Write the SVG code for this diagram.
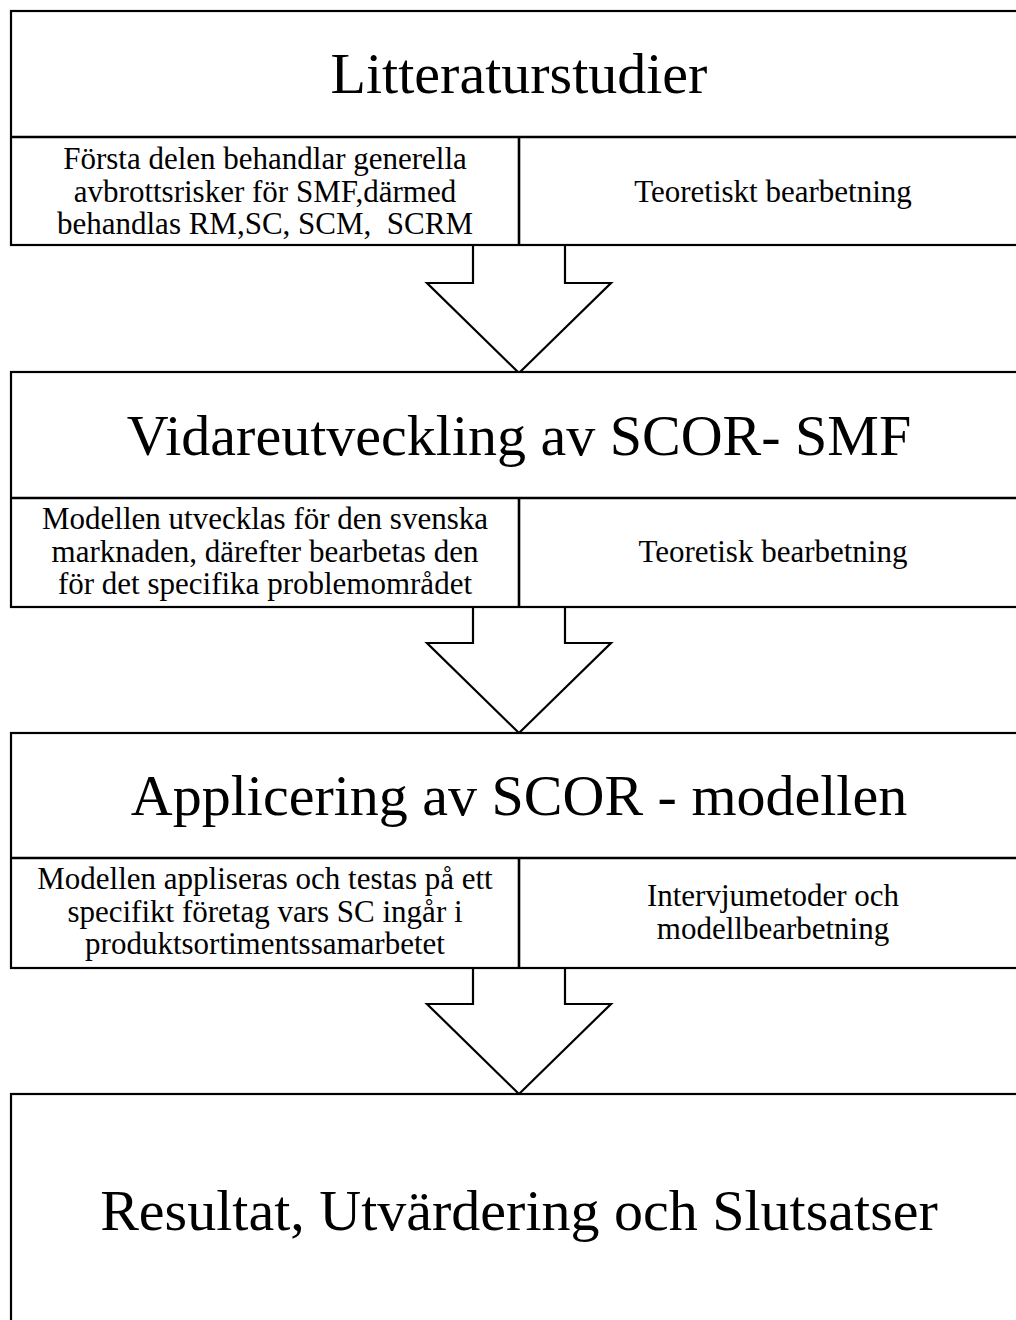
<svg xmlns="http://www.w3.org/2000/svg" width="1016" height="1320" viewBox="0 0 1016 1320">
  <style>
    .frame { fill: #ffffff; stroke: #000000; stroke-width: 2.2; }
    .rule { stroke: #000000; stroke-width: 2.6; fill: none; }
    .arrow { fill: #ffffff; stroke: #000000; stroke-width: 2.2; stroke-linejoin: miter; }
    .title { font-family: "Liberation Serif", "Times New Roman", serif; font-size: 58px; fill: #000000; text-anchor: middle; }
    .cell { font-family: "Liberation Serif", "Times New Roman", serif; font-size: 31px; fill: #000000; text-anchor: middle; }
  </style>
  <rect x="0" y="0" width="1016" height="1320" fill="#ffffff"/>

  <!-- block arrows between the stages -->
  <g id="connectors">
    <polyline class="arrow" points="473,245 473,283 427,283 519,373 611,283 565,283 565,245"/>
    <polyline class="arrow" points="473,607 473,643 427,643 519,733 611,643 565,643 565,607"/>
    <polyline class="arrow" points="473,968 473,1004 427,1004 519,1094 611,1004 565,1004 565,968"/>
  </g>

  <!-- stage 1 -->
  <g id="litteraturstudier">
    <rect class="frame" x="11" y="11" width="1016" height="234"/>
    <line class="rule" x1="11" y1="137" x2="1027" y2="137"/>
    <line class="rule" x1="519" y1="137" x2="519" y2="245"/>
    <text class="title" x="519" y="93">Litteraturstudier</text>
    <text class="cell" x="265" y="169">Första delen behandlar generella</text>
    <text class="cell" x="265" y="201.5">avbrottsrisker för SMF,därmed</text>
    <text class="cell" x="265" y="234" xml:space="preserve">behandlas RM,SC, SCM,  SCRM</text>
    <text class="cell" x="773" y="202">Teoretiskt bearbetning</text>
  </g>

  <!-- stage 2 -->
  <g id="vidareutveckling">
    <rect class="frame" x="11" y="372" width="1016" height="235"/>
    <line class="rule" x1="11" y1="498" x2="1027" y2="498"/>
    <line class="rule" x1="519" y1="498" x2="519" y2="607"/>
    <text class="title" x="519" y="455">Vidareutveckling av SCOR- SMF</text>
    <text class="cell" x="265" y="529">Modellen utvecklas för den svenska</text>
    <text class="cell" x="265" y="561.5">marknaden, därefter bearbetas den</text>
    <text class="cell" x="265" y="594">för det specifika problemområdet</text>
    <text class="cell" x="773" y="562">Teoretisk bearbetning</text>
  </g>

  <!-- stage 3 -->
  <g id="applicering">
    <rect class="frame" x="11" y="733" width="1016" height="235"/>
    <line class="rule" x1="11" y1="858" x2="1027" y2="858"/>
    <line class="rule" x1="519" y1="858" x2="519" y2="968"/>
    <text class="title" x="519" y="815">Applicering av SCOR - modellen</text>
    <text class="cell" x="265" y="889">Modellen appliseras och testas på ett</text>
    <text class="cell" x="265" y="921.5">specifikt företag vars SC ingår i</text>
    <text class="cell" x="265" y="954">produktsortimentssamarbetet</text>
    <text class="cell" x="773" y="906">Intervjumetoder och</text>
    <text class="cell" x="773" y="938.5">modellbearbetning</text>
  </g>

  <!-- stage 4 -->
  <g id="resultat">
    <rect class="frame" x="11" y="1094" width="1016" height="240"/>
    <text class="title" x="519" y="1230">Resultat, Utvärdering och Slutsatser</text>
  </g>
</svg>
